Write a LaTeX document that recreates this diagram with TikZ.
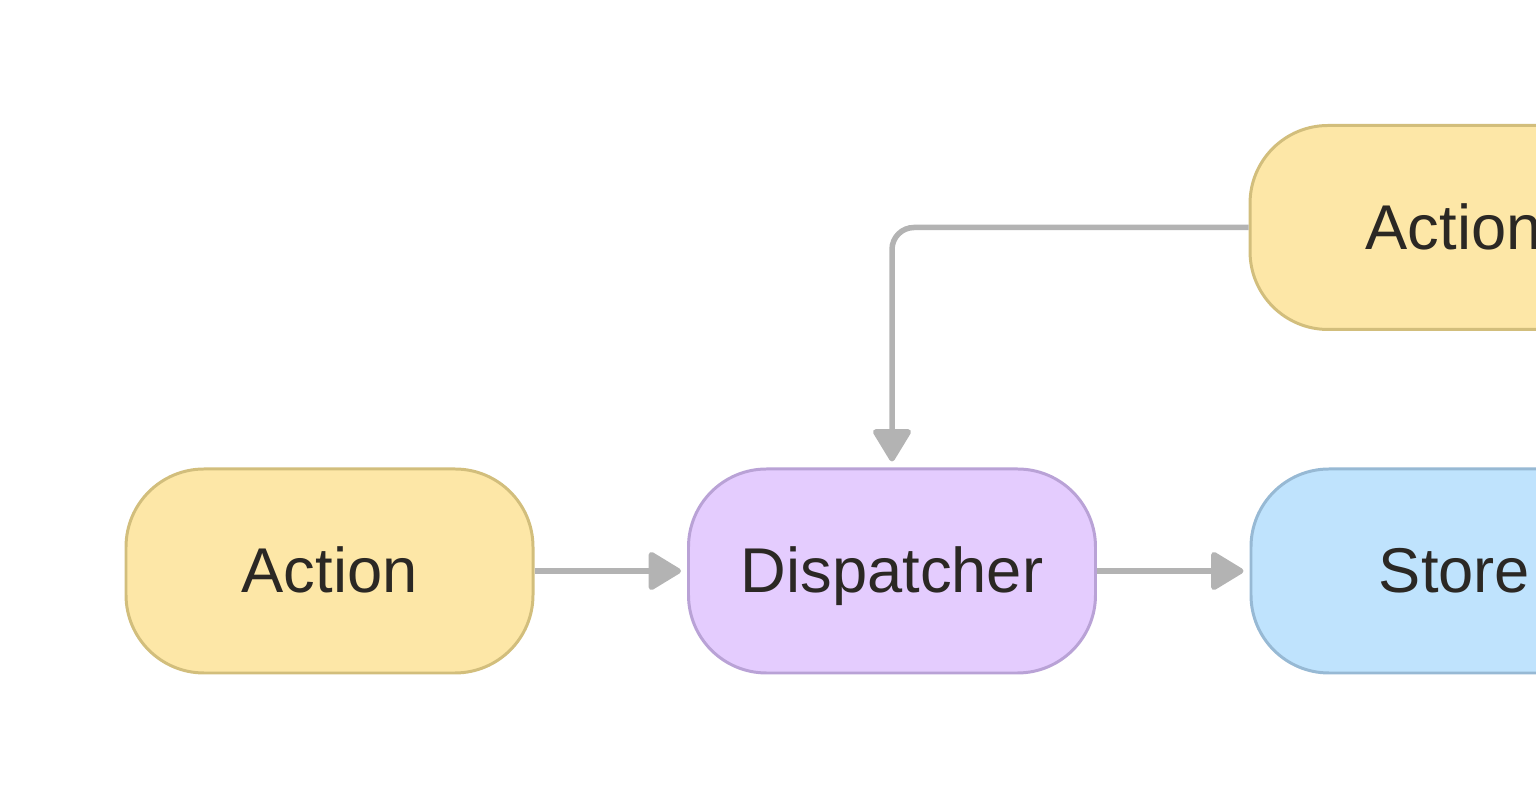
\documentclass[tikz,border=0pt]{standalone}
\usepackage{fontspec}
\setmainfont{Liberation Sans}
\usepackage{tikz}
\usetikzlibrary{arrows.meta,positioning}

\definecolor{actfill}{HTML}{FDE7A7}
\definecolor{actline}{HTML}{D2BE7C}
\definecolor{dispfill}{HTML}{E4CCFE}
\definecolor{displine}{HTML}{B9A2D6}
\definecolor{storefill}{HTML}{BFE3FD}
\definecolor{storeline}{HTML}{97B9D4}
\definecolor{arrowgray}{HTML}{B3B3B3}
\definecolor{labeltext}{HTML}{2B2824}

\tikzset{
  fluxbox/.style={rectangle, rounded corners=1.56cm, line width=1.7pt,
    minimum width=8.14cm, minimum height=4.08cm, inner sep=0pt,
    text height=0.88cm, text depth=0pt,
    text=labeltext, font=\fontsize{36pt}{40pt}\selectfont},
  actionbox/.style={fluxbox, draw=actline, fill=actfill},
  dispatcherbox/.style={fluxbox, draw=displine, fill=dispfill},
  storebox/.style={fluxbox, draw=storeline, fill=storefill},
  flowarrow/.style={draw=arrowgray, line width=0.11cm, shorten >=0.12cm,
    -{Triangle[length=0.7cm, width=0.82cm, round]}}
}

\begin{document}
\begin{tikzpicture}
  \useasboundingbox (0,0) rectangle (30.72,16);
  \clip (0,0) rectangle (30.72,16);
  %--------------- bottom row ---------------
  \node[actionbox] (action) at (6.59,4.58) {Action};
  \node[dispatcherbox, right=3.05cm of action] (dispatcher) {Dispatcher};
  \node[storebox, right=3.05cm of dispatcher] (store) {Store};
  %--------------- top action ---------------
  \node[actionbox] (viewaction) at (29.07,11.45) {Action};
  %--------------- arrows ---------------
  \draw[flowarrow] (action) -- (dispatcher);
  \draw[flowarrow] (dispatcher) -- (store);
  % view action -> dispatcher
  \draw[flowarrow, rounded corners=0.44cm] (viewaction.west) -| (dispatcher.north);
\end{tikzpicture}
\end{document}
